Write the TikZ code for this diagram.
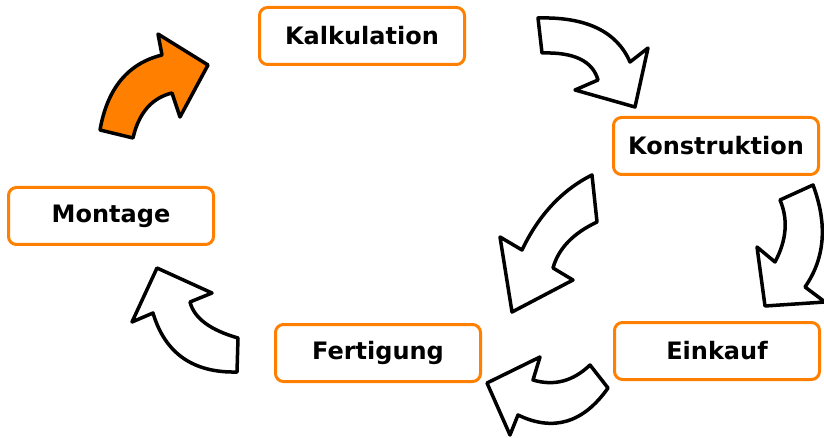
\documentclass[tikz,border=0pt]{standalone}
\usepackage{fontspec}
\setmainfont{DejaVu Sans}
\usepackage{tikz}
\definecolor{kreisorange}{RGB}{255,128,0}
\tikzset{
  phase/.style={draw=kreisorange, line width=3pt, rounded corners=8pt, fill=white,
    minimum width=205pt, minimum height=57pt, font=\fontsize{24}{28}\selectfont\bfseries},
  pfeil/.style={draw=black, line width=3.5pt, line join=round, fill=white},
}
\begin{document}
\begin{tikzpicture}[x=1pt, y=-1pt]
\useasboundingbox (0,0) rectangle (824,438);
\node[phase] (kalk) at (362,36) {Kalkulation};
\node[phase] (konst) at (716,146) {Konstruktion};
\node[phase] (eink) at (717,351) {Einkauf};
\node[phase] (fert) at (378,353) {Fertigung};
\node[phase] (mont) at (111,216) {Montage};
% Montage -> Kalkulation
\draw[pfeil, fill=kreisorange] (100,130) -- (133,138) .. controls (138.7,113) and (151.7,98) .. (172,93)
  -- (180,117) -- (208,65) -- (158,34) -- (162,55) .. controls (128,63.3) and (107.3,88.3) .. (100,130) -- cycle;
% Kalkulation -> Konstruktion
\draw[pfeil] (538,18) .. controls (586,16.7) and (616.7,31.3) .. (630,62) -- (648,48) -- (635,107)
  -- (575,90) -- (598,80) .. controls (592.7,61) and (574,52) .. (542,53) -- cycle;
% Konstruktion -> Einkauf
\draw[pfeil] (813,185) .. controls (827.7,224.3) and (825,258.3) .. (805,287) -- (825,302) -- (765,306)
  -- (757,247) -- (775,262) .. controls (786.7,240) and (788.3,219.3) .. (780,200) -- cycle;
% Konstruktion -> Fertigung
\draw[pfeil] (592,175) .. controls (562,190) and (538.7,215) .. (522,250) -- (500,237) -- (512,312)
  -- (573,280) -- (553,268) .. controls (558.3,248.7) and (573,233.3) .. (597,222) -- cycle;
% Einkauf -> Fertigung
\draw[pfeil] (590,365) .. controls (573,381.3) and (554,386.3) .. (533,380) -- (540,357) -- (487,383)
  -- (510,435) -- (518,415) .. controls (553.3,432) and (583.3,423) .. (608,388) -- cycle;
% Fertigung -> Montage
\draw[pfeil] (238,338) .. controls (210,330) and (194,318) .. (190,302) -- (212,293) -- (157,268)
  -- (132,322) -- (153,313) .. controls (165,353.3) and (193,373) .. (237,372) -- cycle;
\end{tikzpicture}
\end{document}
